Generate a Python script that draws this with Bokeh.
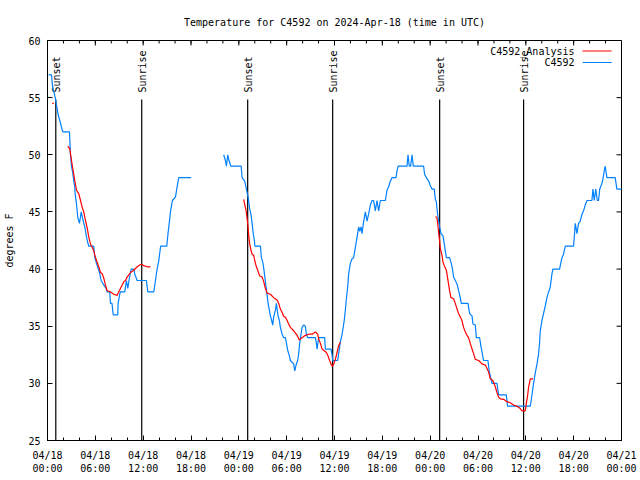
import numpy as np
from bokeh.plotting import figure
from bokeh.models import Range1d, FixedTicker, DatetimeTickFormatter
from bokeh.embed import file_html
from bokeh.resources import INLINE
from bokeh.core.properties import value

# ---------------- data (hours since 2024-04-18 00:00 UTC, degrees F) ----------------
obs_hours = [0.13, 0.50, 0.63, 0.79, 0.97, 1.22, 1.34, 1.54, 1.72, 1.92, 2.76, 2.82, 2.88, 3.01, 3.17,
             3.30, 3.42, 3.47, 3.60, 3.72, 3.80, 4.01, 4.23, 4.39, 4.55, 4.68, 4.85, 4.98, 5.18, 5.80,
             5.93, 6.23, 6.52, 6.73, 7.06, 7.36, 7.48, 7.81, 7.90, 8.09, 8.24, 8.81, 8.86, 9.06, 9.15,
             9.69, 9.90, 10.07, 10.22, 10.49, 10.82, 10.97, 11.25, 12.41, 12.58, 13.33, 13.54, 13.75,
             13.95, 14.19, 14.96, 15.13, 15.30, 15.42, 15.67, 16.05, 16.26, 16.46, 18.02,
             20.00,
             22.10, 22.32, 22.44, 22.61, 22.76, 23.01, 24.29, 24.41, 24.74, 25.04, 25.16, 25.24, 25.36,
             25.54, 25.67, 25.79, 25.95, 26.02, 26.71, 26.83, 27.04, 27.21, 27.42, 27.55, 27.67, 27.83,
             27.96, 28.12, 28.25, 28.37, 28.59, 28.71, 28.92, 29.09, 29.21, 29.43, 29.63, 29.84, 29.97,
             30.13, 30.34, 30.47, 30.88, 31.01, 31.22, 31.38, 31.51, 31.63, 31.93, 32.13, 32.35, 32.47,
             32.64, 33.60, 33.73, 33.81, 33.91, 34.01, 34.77, 34.85, 35.57, 35.69, 35.77, 36.40, 36.52,
             36.65, 36.73, 36.95, 37.07, 37.24, 37.36, 37.49, 37.65, 37.78, 37.99, 38.20, 38.40, 38.62,
             38.83, 39.03, 39.18, 39.33, 39.46, 39.62, 39.87, 40.08, 40.28, 40.50, 40.71, 40.91, 41.12,
             41.33, 41.54, 41.75, 42.38, 42.59, 42.79, 43.00, 43.22, 43.72, 43.84, 43.97, 45.10, 45.22,
             45.38, 45.55, 45.72, 45.89, 47.18, 47.30, 47.52, 47.81, 48.02, 48.23, 48.52, 48.65, 48.77,
             48.93, 49.06, 49.18, 49.36, 49.61, 49.77, 50.03, 50.44, 50.65, 50.82, 50.94, 51.15, 51.37,
             51.57, 51.78, 51.90, 52.74, 52.95, 53.25, 53.37, 53.66, 53.79, 54.20, 54.38, 54.70, 55.25,
             55.42, 55.63, 55.76, 56.38, 56.58, 57.55, 57.71, 60.56, 60.77, 60.97, 61.18, 61.40, 61.60,
             61.72, 61.81, 62.02, 62.22, 62.44, 62.65, 62.85, 63.06, 63.28, 63.40, 64.23, 64.41, 64.53,
             64.73, 64.95, 65.99, 66.11, 66.20, 66.41, 66.61, 66.83, 67.04, 67.24, 67.45, 67.67, 68.29,
             68.42, 68.58, 68.77, 68.96, 69.12, 69.27, 69.55, 69.67, 69.84, 69.96, 70.17, 71.21, 71.42,
             72.05]
obs_temp = [57, 57, 56, 55.5, 55, 54, 53.5, 53, 52.5, 52, 52, 51, 50, 49, 48.4,
            47.7, 47.2, 46.6, 45.9, 45.1, 44.5, 44, 45, 44.5, 44, 43.7, 43, 42.5, 42, 42,
            41, 40.3, 39.7, 39, 38.6, 38.3, 38, 38, 37, 37, 36, 36, 37, 37.8, 38,
            38, 39, 38.3, 39, 40, 40, 39.5, 39, 39, 38, 38, 39, 40,
            40.7, 42, 42, 43.2, 44.2, 45, 46, 46.3, 47.2, 48, 48,
            np.nan,
            50, 49.5, 49, 50, 49.5, 49, 49, 48, 47.7, 46.7, 46.3, 45.9, 45.3,
            44.7, 44, 43.2, 42.5, 42, 42, 41, 40.5, 39.6, 38.4, 37.7, 37, 36.4,
            35.9, 35.5, 35.1, 35.8, 36.4, 37, 35.9, 35.5, 34.9, 34.3, 34, 34, 33.5,
            32.9, 32.4, 32, 31.7, 31.1, 31.7, 32, 32.6, 33.5, 34.9, 35.1, 35, 34.3,
            34, 34, 33.5, 33, 33.5, 34, 34, 33, 33, 32.5, 32, 32, 32.6,
            33.2, 33.6, 34.3, 34.8, 35.6, 36.4, 37.4, 38.4, 39.6, 40.5, 40.9, 41, 41.9,
            42.8, 43.7, 43.3, 43.7, 43.1, 44, 45, 44.2, 44.8, 45.6, 46, 46, 45.1,
            46, 45.1, 46, 46, 46.9, 47.2, 47.7, 48, 48, 48.6, 49, 49, 50,
            49, 49, 50, 49, 49, 48.3, 48, 47.7, 47.3, 47, 47, 46.1, 45.9,
            44.8, 44.2, 43.7, 43.1, 42.9, 42.2, 41, 41, 40.5, 39.9, 39.3, 39, 38.7,
            38.1, 37.5, 37, 37, 36.1, 35.9, 35.2, 35.1, 34, 34, 33.2, 32, 32,
            31, 30.4, 30, 30, 29, 29, 28, 28, 29, 30, 30.9, 31.7, 32.6,
            33.5, 34.6, 35.5, 36.1, 36.8, 37.5, 38, 38.4, 39.6, 40, 40, 40.6, 41,
            41.3, 42, 42, 43.1, 44, 43.1, 44, 44.2, 44.8, 45.1, 45.6, 46, 46,
            47, 46, 47, 46, 46, 47, 47.5, 47.9, 48.6, 49, 48, 48, 47,
            47]

ana_hours = [0.59, 0.79, 1.50,
             2.55, 2.80, 3.01, 3.22, 3.42, 3.64, 3.92, 4.14, 4.35, 4.55, 4.76, 4.98, 5.18, 5.39,
             5.60, 5.80, 6.02, 6.23, 6.43, 6.65, 6.86, 7.06, 7.27, 7.48, 7.90, 8.31, 8.74, 8.94,
             9.15, 9.37, 9.57, 9.78, 9.99, 10.19, 10.41, 10.82, 11.25, 11.66, 11.87, 12.07, 12.50,
             12.91,
             18.00,
             24.61, 24.91, 25.04, 25.16, 25.24, 25.36, 25.54, 25.67, 25.87, 25.99, 26.20, 26.37,
             26.62, 26.92, 27.12, 27.33, 27.55, 27.96, 28.37, 28.80, 29.00, 29.21, 29.43, 29.63,
             29.84, 30.05, 30.25, 30.47, 30.88, 31.31, 31.59, 31.93, 32.35, 32.76, 33.19, 33.60,
             33.89, 34.01, 34.23, 34.44, 34.64, 34.98, 35.19, 35.39, 35.61, 35.77, 35.90, 36.11,
             36.32, 36.52, 36.73,
             42.00,
             48.68, 48.84, 48.98, 49.06, 49.18, 49.27, 49.49, 49.61, 49.77, 50.03, 50.19, 50.44,
             50.61, 50.94, 51.15, 51.37, 51.57, 51.78, 51.99, 52.19, 52.41, 52.62, 52.82, 53.03,
             53.25, 53.45, 53.66, 54.08, 54.50, 54.92, 55.13, 55.33, 55.54, 55.76, 55.96, 56.17,
             56.38, 56.58, 56.80, 57.21, 57.64, 58.05, 58.46, 58.89, 59.30, 59.52, 59.93, 60.05,
             60.22, 60.35, 60.56, 60.90]
ana_temp = [54.5, 54.5, np.nan,
            50.75, 50.5, 49.5, 48.6, 47.75, 46.9, 46.6, 46, 45.4, 45, 44.25, 43.6, 42.8, 42.2,
            41.9, 41.6, 41.0, 40.6, 40.2, 39.7, 39.6, 39.2, 38.6, 38.1, 38.0, 37.8, 37.7, 38,
            38.3, 38.6, 38.9, 39, 39.3, 39.5, 39.7, 39.9, 40.2, 40.4, 40.4, 40.3, 40.2,
            40.2,
            np.nan,
            46.1, 45.1, 44.4, 43.7, 42.9, 42.2, 41.6, 41.3, 41.2, 40.75, 40.2, 39.9,
            39.4, 39.3, 38.9, 38.3, 37.9, 37.8, 37.5, 37.3, 37, 36.5, 36.2, 35.85,
            35.8, 35.5, 35.2, 34.9, 34.6, 34.2, 33.8, 34.0, 34.2, 34.3, 34.3, 34.5,
            34.3, 33.9, 33.5, 33.0, 32.9, 32.7, 32.4, 32.0, 31.6, 31.5, 31.7, 32.1,
            32.7, 33.3, 33.6,
            np.nan,
            44.6, 44.5, 43.8, 43.2, 42.5, 41.8, 41.2, 40.6, 40.3, 39.9, 39.2, 38.1,
            37.5, 37.4, 37, 36.5, 36.1, 35.8, 35.5, 34.9, 34.5, 34.2, 34.0, 33.5,
            33.0, 32.6, 32.1, 32.0, 31.7, 31.6, 31.3, 31.0, 30.4, 30.3, 30.1, 29.7,
            29.2, 28.8, 28.65, 28.6, 28.4, 28.3, 28.1, 28.0, 27.8, 27.6, 27.6, 28.2,
            28.9, 29.7, 30.4, 30.4]

sun_hours = [1.04, 11.82, 25.11, 35.77, 49.19, 59.72]
sun_labels = ["Sunset", "Sunrise", "Sunset", "Sunrise", "Sunset", "Sunrise"]

y_ticks = [25, 30, 35, 40, 45, 50, 55, 60]
x_major_hours = [0, 6, 12, 18, 24, 30, 36, 42, 48, 54, 60, 66, 72]
x_minor_hours = list(range(0, 73, 2))

title_text = "Temperature for C4592 on 2024-Apr-18 (time in UTC)"
ylabel_text = "degrees F"
legend_names = ["C4592_Analysis", "C4592"]

# ---------------- helpers ----------------
START_MS = np.datetime64("2024-04-18T00:00").astype("datetime64[ms]").astype(np.int64)
HOUR_MS = 3600000.0


def to_ms(h):
    return START_MS + np.asarray(h, dtype=float) * HOUR_MS


FONT = "DejaVu Sans Mono"
FS = "10px"
BLUE = "#0080ff"
RED = "#ff0000"

W, H = 640, 480
ML, MR, MT, MB = 47, 19, 40, 40
FW, FH = W - ML - MR, H - MT - MB

x0, x1 = to_ms(0), to_ms(72)
y0, y1 = 25, 60

p = figure(width=W, height=H, output_backend="svg", toolbar_location=None,
           x_axis_type="datetime", x_range=Range1d(x0, x1), y_range=Range1d(y0, y1),
           min_border_left=ML, min_border_right=MR, min_border_top=MT, min_border_bottom=MB,
           tools="")
p.background_fill_color = "white"
p.border_fill_color = "white"
p.outline_line_color = "black"
p.outline_line_width = 1
p.xgrid.visible = False
p.ygrid.visible = False

p.title.text = title_text
p.title.text_font = FONT
p.title.text_font_size = FS
p.title.text_font_style = "normal"
p.title.text_color = "black"
p.title.align = "center"
p.title.standoff = 26

fmt = "%m/%d\n%H:%M"
xt = FixedTicker(ticks=list(to_ms(x_major_hours)), minor_ticks=list(to_ms(x_minor_hours)))
xf = DatetimeTickFormatter(microseconds=fmt, milliseconds=fmt, seconds=fmt, minsec=fmt,
                           minutes=fmt, hourmin=fmt, hours=fmt, days=fmt, months=fmt, years=fmt)
yt = FixedTicker(ticks=y_ticks, minor_ticks=[])

MAJ, MIN = 5, 3


def style_axis(ax):
    ax.axis_line_color = "black"
    ax.major_tick_in = MAJ
    ax.major_tick_out = 0
    ax.minor_tick_in = MIN
    ax.minor_tick_out = 0
    ax.major_tick_line_color = "black"
    ax.minor_tick_line_color = "black"
    ax.major_label_text_font = FONT
    ax.major_label_text_font_size = FS
    ax.major_label_text_color = "black"


xa = p.xaxis[0]
xa.ticker = xt
xa.formatter = xf
style_axis(xa)
xa.major_label_standoff = 9

ya = p.yaxis[0]
ya.ticker = yt
style_axis(ya)
ya.major_label_standoff = 7
ya.axis_label = ylabel_text
ya.axis_label_text_font = FONT
ya.axis_label_text_font_size = FS
ya.axis_label_text_font_style = "normal"
ya.axis_label_text_color = "black"
ya.axis_label_standoff = 10

dx = (x1 - x0) / FW   # data units per pixel
dy = (y1 - y0) / FH

# mirrored ticks on top and right edges (gnuplot style)
maj_x = to_ms(x_major_hours)
min_x = to_ms(x_minor_hours)
p.segment(x0=min_x, y0=[y1] * len(min_x), x1=min_x, y1=[y1 - MIN * dy] * len(min_x),
          line_color="black", line_width=1)
p.segment(x0=maj_x, y0=[y1] * len(maj_x), x1=maj_x, y1=[y1 - MAJ * dy] * len(maj_x),
          line_color="black", line_width=1)
p.segment(x0=[x1] * len(y_ticks), y0=y_ticks, x1=[x1 - MAJ * dx] * len(y_ticks), y1=y_ticks,
          line_color="black", line_width=1)

# sunrise / sunset markers
sun_x = to_ms(sun_hours)
line_top = y1 - 59.0 * dy
label_y = y1 - 52.0 * dy
p.segment(x0=sun_x, y0=[y0] * len(sun_x), x1=sun_x, y1=[line_top] * len(sun_x),
          line_color="black", line_width=1.2)
p.text(x=sun_x, y=[label_y] * len(sun_x), text=sun_labels, angle=np.pi / 2,
       text_align="left", text_baseline="middle", x_offset=1,
       text_font=value(FONT), text_font_size=FS, text_color="black")

# series
p.line(to_ms(obs_hours), obs_temp, line_color=BLUE, line_width=1.2)
p.line(to_ms(ana_hours), ana_temp, line_color=RED, line_width=1.2)

# legend (gnuplot style: text, then sample line)
rows = [10.5, 22.0]
p.text(x=[x0 + 527 * dx] * 2, y=[y1 - r * dy for r in rows], text=legend_names,
       text_align="right", text_baseline="middle",
       text_font=value(FONT), text_font_size=FS, text_color="black")
for r, c in zip(rows, [RED, BLUE]):
    p.line([x0 + 535 * dx, x0 + 564 * dx], [y1 - r * dy] * 2, line_color=c, line_width=1.2)

open("out.html", "w").write(file_html(p, INLINE))
